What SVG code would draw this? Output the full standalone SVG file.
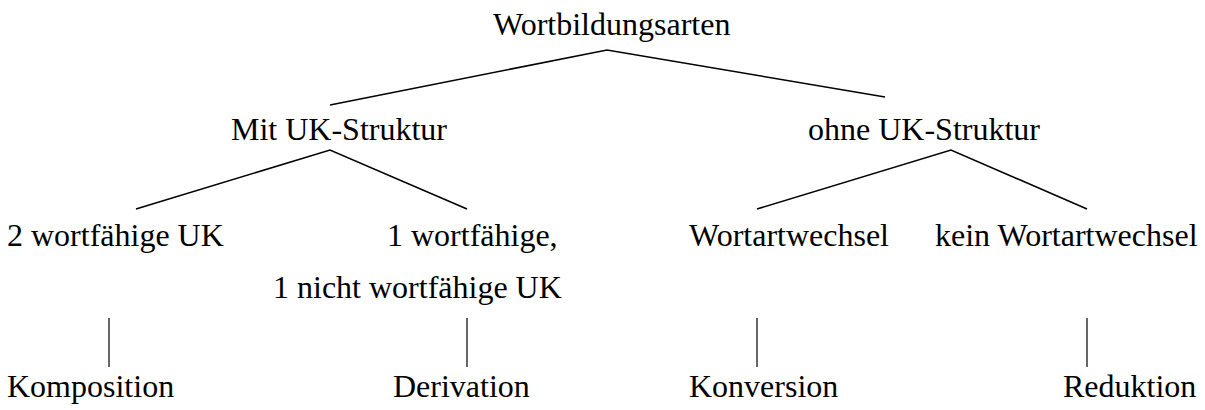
<svg xmlns="http://www.w3.org/2000/svg" width="1205" height="410" viewBox="0 0 1205 410">
<style>
text{font-family:'Liberation Serif','Times New Roman',serif;font-size:32px;fill:#000}
.c{stroke:#000;stroke-width:1.6;fill:none}
.v{stroke:#000;stroke-width:1.2;fill:none}
</style>
<rect width="1205" height="410" fill="#fff"/>
<g id="connectors">
<polyline class="c" points="330,105 607,50 885,97"/>
<polyline class="c" points="136,209 330,150 467,209"/>
<polyline class="c" points="757,209 951,150 1087,209"/>
<line class="v" x1="109" y1="318" x2="109" y2="367"/>
<line class="v" x1="467" y1="318" x2="467" y2="367"/>
<line class="v" x1="757" y1="318" x2="757" y2="367"/>
<line class="v" x1="1087" y1="318" x2="1087" y2="367"/>
</g>
<g id="n-wortbildungsarten"><text x="493" y="35">Wortbildungsarten</text></g>
<g id="n-mit"><text x="231" y="140">Mit UK-Struktur</text></g>
<g id="n-ohne"><text x="808" y="140">ohne UK-Struktur</text></g>
<g id="n-2uk"><text x="7" y="246">2 wortfähige UK</text></g>
<g id="n-1uk"><text x="387" y="246">1 wortfähige,</text><text x="273" y="298">1 nicht wortfähige UK</text></g>
<g id="n-wechsel"><text x="689" y="246">Wortartwechsel</text></g>
<g id="n-keinwechsel"><text x="935" y="246">kein Wortartwechsel</text></g>
<g id="n-komposition"><text x="7" y="397">Komposition</text></g>
<g id="n-derivation"><text x="393" y="397">Derivation</text></g>
<g id="n-konversion"><text x="689" y="397">Konversion</text></g>
<g id="n-reduktion"><text x="1063" y="397">Reduktion</text></g>
</svg>
